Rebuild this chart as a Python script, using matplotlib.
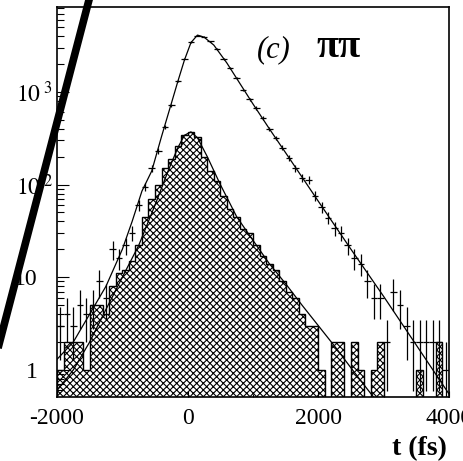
import numpy as np
import matplotlib
matplotlib.use('Agg')
from matplotlib import pyplot as plt
from matplotlib.lines import Line2D
from matplotlib.ticker import FixedLocator, NullFormatter
from matplotlib.transforms import ScaledTranslation

# proper time bins (fs), 100 fs wide
t_edges = np.arange(-2000, 4001, 100)
t_centers = (t_edges[:-1] + t_edges[1:]) / 2

# signal region entries per bin
sig_counts = [3, 4, 3, 5, 4, 5, 9, 6, 20, 16,
              22, 30, 60, 95, 150, 230, 420, 720, 1300, 2250,
              3450, 4050, 3950, 3500, 2900, 2250, 1800, 1400, 1050, 830,
              670, 520, 400, 320, 250, 195, 150, 118, 112, 76,
              57, 44, 34, 30, 22, 16, 14, 9, 6, 6,
              2, 7, 5, 3, 2, 2, 2, 2, 2, 1]

# hatched background histogram
bkg_counts = [1, 2, 2, 2, 1, 5, 5, 4, 8, 11,
              12, 15, 22, 45, 70, 100, 150, 190, 260, 340,
              370, 330, 200, 140, 110, 75, 55, 45, 33, 30,
              22, 17, 14, 12, 9, 7, 6, 4, 3, 3,
              1, 0, 2, 2, 0, 2, 1, 0, 1, 2,
              0, 0, 0, 0, 0, 1, 0, 0, 2, 0]

# fitted curve over the signal
fit_t = [-2000, -1750, -1500, -1250, -1000, -850, -700, -550, -400, -250,
         -150, -50, 50, 150, 250, 400, 600, 800, 1000, 1250,
         1500, 2000, 2500, 3000, 3500, 4000]
fit_vals = [1.3, 2.0, 4.0, 8, 20, 40, 85, 140, 330, 750,
            1300, 2200, 3400, 4100, 3900, 3200, 2050, 1230, 740, 400,
            220, 66, 20, 6.2, 1.85, 0.55]

# fitted curve over the background
bfit_t = [-2000, -1750, -1500, -1250, -1000, -750, -500, -300, -150, -50,
          50, 150, 300, 500, 750, 1000, 1250, 1500, 1750, 2000,
          2250, 2500, 2750, 3000]
bfit_vals = [0.6, 1.0, 2.0, 4.5, 10, 22, 60, 140, 250, 340,
             370, 320, 200, 100, 45, 25, 14, 8.5, 5, 3,
             1.8, 1.05, 0.62, 0.37]

plt.rcParams['font.family'] = ['Liberation Serif', 'DejaVu Serif']
plt.rcParams['mathtext.fontset'] = 'stix'
plt.rcParams['axes.unicode_minus'] = False
plt.rcParams['hatch.linewidth'] = 0.8

fig = plt.figure(figsize=(4.63, 4.61), dpi=100)
ax = fig.add_axes([57 / 463, 64 / 461, 392 / 463, 390 / 461])
ax.set_yscale('log', nonpositive='clip')

ax.hist(t_centers, bins=t_edges, weights=bkg_counts, histtype='stepfilled',
        hatch='xxxxx', facecolor='white', edgecolor='black', lw=1.0)

sig = np.array(sig_counts, dtype=float)
keep = sig > 0
ax.errorbar(t_centers[keep], sig[keep], xerr=50, yerr=np.sqrt(sig[keep]),
            fmt='none', ecolor='black', elinewidth=0.9, capsize=0)

ax.plot(fit_t, fit_vals, color='black', lw=0.9)
ax.plot(bfit_t, bfit_vals, color='black', lw=0.9)

ax.set_xlim(-2000, 4000)
ax.set_ylim(0.51, 8240)

# ticks: log y on the left only, small ticks on the bottom
ax.yaxis.set_major_locator(FixedLocator([1, 10, 100, 1000]))
ax.set_yticklabels(['1', '10', r'$10^{\;2}$', r'$10^{\;3}$'])
minor_y = [m * 10 ** d for d in range(-1, 4) for m in range(2, 10)]
ax.yaxis.set_minor_locator(FixedLocator(minor_y))
ax.yaxis.set_minor_formatter(NullFormatter())
ax.tick_params(axis='y', which='major', direction='in', length=8.5, width=0.8,
               labelsize=17, pad=3, right=False)
ax.tick_params(axis='y', which='minor', direction='in', length=5, width=0.8, right=False)

# the plain "1" and "10" labels sit further left than the powers of ten
for tick in ax.yaxis.get_major_ticks()[:2]:
    lab = tick.label1
    lab.set_transform(lab.get_transform() + ScaledTranslation(-0.15, 0, fig.dpi_scale_trans))

ax.xaxis.set_major_locator(FixedLocator([-2000, 0, 2000, 4000]))
ax.xaxis.set_minor_locator(FixedLocator([-1000, 1000, 3000]))
ax.tick_params(axis='x', which='major', direction='in', length=4.5, width=0.8,
               labelsize=17, pad=8, top=False)
ax.tick_params(axis='x', which='minor', direction='in', length=2.5, width=0.8, top=False)

for s in ax.spines.values():
    s.set_linewidth(1.2)

fig.text(257 / 463, 1 - 57 / 461, '(c)', fontsize=22, style='italic', va='baseline')
fig.text(316 / 463, 1 - 57 / 461, 'ππ', fontsize=29, fontweight='bold', va='baseline')
fig.text(447 / 463, 1 - 455 / 461, 't (fs)', fontsize=20, fontweight='bold',
         ha='right', va='baseline')

# thick stroke drawn across the left edge of the panel
fig.add_artist(Line2D([89.5 / 463, -3 / 463], [1 + 2 / 461, 1 - 352 / 461],
                      color='black', lw=5.5, transform=fig.transFigure))

fig.savefig('out.png', dpi=100)
